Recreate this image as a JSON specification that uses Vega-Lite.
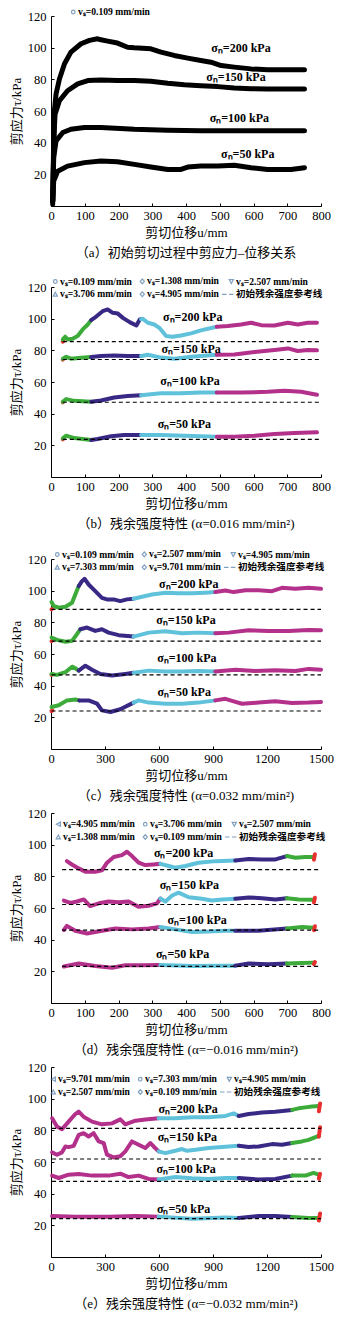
{
"$schema":"https://vega.github.io/schema/vega-lite/v6.json",
"padding":{"left":10,"top":5,"right":2,"bottom":2},
"spacing":3,
"config":{
 "view":{"stroke":null},
 "axis":{"grid":false,"domainColor":"#000","tickColor":"#000","tickSize":-3,"labelFont":"Liberation Serif","labelFontSize":12.5,"labelColor":"#000","labelFlush":false,"labelOverlap":false,"titleFont":"Liberation Serif, Noto Sans CJK SC","titleFontSize":13,"titleFontWeight":"normal","titleColor":"#000"},
 "axisX":{"labelPadding":6.3,"titlePadding":5,"format":"d"},
 "axisY":{"labelPadding":8,"titlePadding":4},
 "title":{"orient":"bottom","frame":"group","anchor":"middle","font":"Liberation Serif, Noto Sans CJK SC","fontSize":13,"fontWeight":"normal","color":"#000","offset":7.5},
 "legend":{"symbolSize":144,"symbolStrokeWidth":1.2,"labelFont":"Liberation Serif, Noto Sans CJK SC","labelFontSize":9.6,"labelFontWeight":"bold","labelColor":"#000","columnPadding":0,"rowPadding":1,"labelOffset":1,"direction":"horizontal"}
},
"resolve":{"scale":{"color":"independent","shape":"independent"},"legend":{"shape":"independent","color":"independent"}},
"datasets":{
"a":[
{"n":200,"x":5,"y":1},{"n":200,"x":8,"y":35},{"n":200,"x":10,"y":60},{"n":200,"x":15,"y":70.7},{"n":200,"x":25,"y":80.2},{"n":200,"x":40,"y":89.8},{"n":200,"x":59,"y":97.2},{"n":200,"x":89,"y":102.5},{"n":200,"x":114,"y":104.6},{"n":200,"x":138,"y":105.6},{"n":200,"x":148,"y":105},{"n":200,"x":168,"y":104.1},{"n":200,"x":197,"y":102.9},{"n":200,"x":227,"y":100.3},{"n":200,"x":247,"y":99.9},{"n":200,"x":296,"y":99.3},{"n":200,"x":326,"y":97.2},{"n":200,"x":365,"y":95.1},{"n":200,"x":405,"y":93.4},{"n":200,"x":444,"y":91.9},{"n":200,"x":474,"y":90.8},{"n":200,"x":504,"y":88.7},{"n":200,"x":543,"y":87.7},{"n":200,"x":593,"y":86.6},{"n":200,"x":642,"y":86},{"n":200,"x":691,"y":86},{"n":200,"x":751,"y":86},
{"n":150,"x":5,"y":3},{"n":150,"x":8,"y":41},{"n":150,"x":12,"y":58},{"n":150,"x":25,"y":66.5},{"n":150,"x":49,"y":72.8},{"n":150,"x":79,"y":77.1},{"n":150,"x":109,"y":79.2},{"n":150,"x":148,"y":79.6},{"n":150,"x":197,"y":79.2},{"n":150,"x":247,"y":79.2},{"n":150,"x":296,"y":78.8},{"n":150,"x":346,"y":77.5},{"n":150,"x":395,"y":76.6},{"n":150,"x":444,"y":76},{"n":150,"x":494,"y":75.4},{"n":150,"x":543,"y":74.5},{"n":150,"x":593,"y":74.1},{"n":150,"x":642,"y":73.9},{"n":150,"x":751,"y":73.9},
{"n":100,"x":5,"y":3},{"n":100,"x":8,"y":30.5},{"n":100,"x":15,"y":41.1},{"n":100,"x":35,"y":46.4},{"n":100,"x":59,"y":48.5},{"n":100,"x":99,"y":49.6},{"n":100,"x":148,"y":49.6},{"n":100,"x":247,"y":48.5},{"n":100,"x":346,"y":47.9},{"n":100,"x":444,"y":47.5},{"n":100,"x":543,"y":47.5},{"n":100,"x":751,"y":47.5},
{"n":50,"x":5,"y":3},{"n":50,"x":8,"y":15.7},{"n":50,"x":20,"y":22},{"n":50,"x":49,"y":25.2},{"n":50,"x":99,"y":27.4},{"n":50,"x":148,"y":28.4},{"n":50,"x":197,"y":28},{"n":50,"x":247,"y":26.3},{"n":50,"x":296,"y":24.6},{"n":50,"x":346,"y":23.1},{"n":50,"x":385,"y":23.1},{"n":50,"x":405,"y":24.6},{"n":50,"x":444,"y":25.2},{"n":50,"x":494,"y":25.2},{"n":50,"x":543,"y":25.7},{"n":50,"x":593,"y":24.2},{"n":50,"x":642,"y":23.1},{"n":50,"x":711,"y":23.1},{"n":50,"x":751,"y":24.2}
],
"b":[
{"n":200,"v":"0.109","x":35,"y":85.5},{"n":200,"v":"0.109","x":37,"y":86},
{"n":200,"v":"1.308","x":35,"y":86.9},{"n":200,"v":"1.308","x":42,"y":88.6},{"n":200,"v":"1.308","x":49,"y":86.9},{"n":200,"v":"1.308","x":64,"y":87.3},{"n":200,"v":"1.308","x":79,"y":89},{"n":200,"v":"1.308","x":94,"y":93.2},{"n":200,"v":"1.308","x":109,"y":96.3},{"n":200,"v":"1.308","x":119,"y":99.1},
{"n":200,"v":"2.507","x":119,"y":99.1},{"n":200,"v":"2.507","x":133,"y":101.2},{"n":200,"v":"2.507","x":153,"y":104.7},{"n":200,"v":"2.507","x":168,"y":105.8},{"n":200,"v":"2.507","x":183,"y":103.7},{"n":200,"v":"2.507","x":198,"y":103.2},{"n":200,"v":"2.507","x":213,"y":100.5},{"n":200,"v":"2.507","x":233,"y":97.8},{"n":200,"v":"2.507","x":253,"y":95.7},{"n":200,"v":"2.507","x":263,"y":99.5},{"n":200,"v":"2.507","x":267,"y":99.7},
{"n":200,"v":"3.706","x":267,"y":99.7},{"n":200,"v":"3.706","x":272,"y":99.9},{"n":200,"v":"3.706","x":287,"y":97.4},{"n":200,"v":"3.706","x":306,"y":96.3},{"n":200,"v":"3.706","x":321,"y":94.2},{"n":200,"v":"3.706","x":341,"y":89},{"n":200,"v":"3.706","x":360,"y":88.6},{"n":200,"v":"3.706","x":385,"y":89.4},{"n":200,"v":"3.706","x":415,"y":90.7},{"n":200,"v":"3.706","x":444,"y":92.6},{"n":200,"v":"3.706","x":491,"y":94.9},
{"n":200,"v":"4.905","x":491,"y":94.9},{"n":200,"v":"4.905","x":524,"y":95.3},{"n":200,"v":"4.905","x":563,"y":96.3},{"n":200,"v":"4.905","x":593,"y":97.4},{"n":200,"v":"4.905","x":623,"y":95.9},{"n":200,"v":"4.905","x":662,"y":95.7},{"n":200,"v":"4.905","x":702,"y":97.4},{"n":200,"v":"4.905","x":731,"y":96.3},{"n":200,"v":"4.905","x":761,"y":97.4},{"n":200,"v":"4.905","x":788,"y":97.4},
{"n":150,"v":"0.109","x":35,"y":74.2},{"n":150,"v":"0.109","x":37,"y":74.6},
{"n":150,"v":"1.308","x":35,"y":74.7},{"n":150,"v":"1.308","x":45,"y":75.9},{"n":150,"v":"1.308","x":59,"y":74.7},{"n":150,"v":"1.308","x":89,"y":75.3},{"n":150,"v":"1.308","x":119,"y":75.8},
{"n":150,"v":"2.507","x":119,"y":75.8},{"n":150,"v":"2.507","x":148,"y":76.4},{"n":150,"v":"2.507","x":187,"y":76.8},{"n":150,"v":"2.507","x":227,"y":76.4},{"n":150,"v":"2.507","x":267,"y":76.4},
{"n":150,"v":"3.706","x":267,"y":76.4},{"n":150,"v":"3.706","x":287,"y":77.2},{"n":150,"v":"3.706","x":326,"y":75.4},{"n":150,"v":"3.706","x":366,"y":74.7},{"n":150,"v":"3.706","x":415,"y":76},{"n":150,"v":"3.706","x":491,"y":77.2},
{"n":150,"v":"4.905","x":491,"y":77.2},{"n":150,"v":"4.905","x":543,"y":77.4},{"n":150,"v":"4.905","x":603,"y":78.9},{"n":150,"v":"4.905","x":662,"y":80.2},{"n":150,"v":"4.905","x":702,"y":81.2},{"n":150,"v":"4.905","x":731,"y":79.6},{"n":150,"v":"4.905","x":761,"y":80.2},{"n":150,"v":"4.905","x":788,"y":80},
{"n":100,"v":"0.109","x":35,"y":47.2},{"n":100,"v":"0.109","x":37,"y":47.6},
{"n":100,"v":"1.308","x":35,"y":47.5},{"n":100,"v":"1.308","x":45,"y":49.2},{"n":100,"v":"1.308","x":69,"y":48.1},{"n":100,"v":"1.308","x":119,"y":47.5},
{"n":100,"v":"2.507","x":119,"y":47.5},{"n":100,"v":"2.507","x":148,"y":48.3},{"n":100,"v":"2.507","x":187,"y":50.2},{"n":100,"v":"2.507","x":227,"y":51.2},{"n":100,"v":"2.507","x":267,"y":51.6},
{"n":100,"v":"3.706","x":267,"y":51.6},{"n":100,"v":"3.706","x":326,"y":52.9},{"n":100,"v":"3.706","x":385,"y":52.9},{"n":100,"v":"3.706","x":444,"y":53.3},{"n":100,"v":"3.706","x":491,"y":53.3},
{"n":100,"v":"4.905","x":491,"y":53.3},{"n":100,"v":"4.905","x":563,"y":53.3},{"n":100,"v":"4.905","x":642,"y":53.8},{"n":100,"v":"4.905","x":692,"y":54.4},{"n":100,"v":"4.905","x":741,"y":53.8},{"n":100,"v":"4.905","x":788,"y":51.9},
{"n":50,"v":"0.109","x":35,"y":23.8},{"n":50,"v":"0.109","x":37,"y":24.2},
{"n":50,"v":"1.308","x":35,"y":24.4},{"n":50,"v":"1.308","x":45,"y":26.1},{"n":50,"v":"1.308","x":69,"y":24.6},{"n":50,"v":"1.308","x":119,"y":23.4},
{"n":50,"v":"2.507","x":119,"y":23.4},{"n":50,"v":"2.507","x":138,"y":24},{"n":50,"v":"2.507","x":178,"y":25.7},{"n":50,"v":"2.507","x":217,"y":26.5},{"n":50,"v":"2.507","x":267,"y":26.5},
{"n":50,"v":"3.706","x":267,"y":26.5},{"n":50,"v":"3.706","x":326,"y":26.5},{"n":50,"v":"3.706","x":395,"y":26.1},{"n":50,"v":"3.706","x":491,"y":25.5},
{"n":50,"v":"4.905","x":491,"y":25.5},{"n":50,"v":"4.905","x":543,"y":25.5},{"n":50,"v":"4.905","x":603,"y":26.1},{"n":50,"v":"4.905","x":662,"y":27.2},{"n":50,"v":"4.905","x":721,"y":27.8},{"n":50,"v":"4.905","x":788,"y":28.2}
],
"c":[
{"n":200,"v":"0.109","x":3,"y":88.2},{"n":200,"v":"0.109","x":8,"y":88.6},
{"n":200,"v":"2.507","x":3,"y":92.8},{"n":200,"v":"2.507","x":15,"y":90.3},{"n":200,"v":"2.507","x":43,"y":89.3},{"n":200,"v":"2.507","x":80,"y":89.9},{"n":200,"v":"2.507","x":117,"y":92.4},{"n":200,"v":"2.507","x":135,"y":97.6},{"n":200,"v":"2.507","x":154,"y":102.9},
{"n":200,"v":"4.905","x":154,"y":102.9},{"n":200,"v":"4.905","x":172,"y":106},{"n":200,"v":"4.905","x":187,"y":107.5},{"n":200,"v":"4.905","x":209,"y":103.9},{"n":200,"v":"4.905","x":246,"y":99.7},{"n":200,"v":"4.905","x":283,"y":95.5},{"n":200,"v":"4.905","x":311,"y":94.5},{"n":200,"v":"4.905","x":348,"y":94.5},{"n":200,"v":"4.905","x":385,"y":93.4},{"n":200,"v":"4.905","x":422,"y":94.5},{"n":200,"v":"4.905","x":459,"y":94.9},
{"n":200,"v":"7.303","x":459,"y":94.9},{"n":200,"v":"7.303","x":506,"y":96.2},{"n":200,"v":"7.303","x":561,"y":97.6},{"n":200,"v":"7.303","x":635,"y":98.7},{"n":200,"v":"7.303","x":709,"y":98.3},{"n":200,"v":"7.303","x":783,"y":98.3},{"n":200,"v":"7.303","x":857,"y":98.7},{"n":200,"v":"7.303","x":913,"y":99.1},
{"n":200,"v":"9.701","x":913,"y":99.1},{"n":200,"v":"9.701","x":969,"y":100.1},{"n":200,"v":"9.701","x":1015,"y":99.1},{"n":200,"v":"9.701","x":1080,"y":100.3},{"n":200,"v":"9.701","x":1154,"y":100.3},{"n":200,"v":"9.701","x":1228,"y":99.7},{"n":200,"v":"9.701","x":1283,"y":101.8},{"n":200,"v":"9.701","x":1357,"y":101.2},{"n":200,"v":"9.701","x":1431,"y":101.8},{"n":200,"v":"9.701","x":1500,"y":101.2},
{"n":150,"v":"0.109","x":3,"y":68.1},{"n":150,"v":"0.109","x":8,"y":68.5},
{"n":150,"v":"2.507","x":3,"y":70.4},{"n":150,"v":"2.507","x":33,"y":68.9},{"n":150,"v":"2.507","x":80,"y":67.7},{"n":150,"v":"2.507","x":117,"y":68.3},{"n":150,"v":"2.507","x":144,"y":72.5},{"n":150,"v":"2.507","x":163,"y":75.6},
{"n":150,"v":"4.905","x":163,"y":75.6},{"n":150,"v":"4.905","x":200,"y":76.7},{"n":150,"v":"4.905","x":246,"y":74.6},{"n":150,"v":"4.905","x":283,"y":75.6},{"n":150,"v":"4.905","x":320,"y":73.5},{"n":150,"v":"4.905","x":376,"y":71.9},{"n":150,"v":"4.905","x":459,"y":71},
{"n":150,"v":"7.303","x":459,"y":71},{"n":150,"v":"7.303","x":543,"y":73.5},{"n":150,"v":"7.303","x":635,"y":74.4},{"n":150,"v":"7.303","x":728,"y":73.1},{"n":150,"v":"7.303","x":820,"y":73.5},{"n":150,"v":"7.303","x":913,"y":73.1},
{"n":150,"v":"9.701","x":913,"y":73.1},{"n":150,"v":"9.701","x":987,"y":73.5},{"n":150,"v":"9.701","x":1098,"y":75},{"n":150,"v":"9.701","x":1209,"y":74.6},{"n":150,"v":"9.701","x":1320,"y":74.6},{"n":150,"v":"9.701","x":1431,"y":75.2},{"n":150,"v":"9.701","x":1500,"y":75},
{"n":100,"v":"0.109","x":3,"y":46.8},{"n":100,"v":"0.109","x":8,"y":47.2},
{"n":100,"v":"2.507","x":3,"y":47.4},{"n":100,"v":"2.507","x":33,"y":46.8},{"n":100,"v":"2.507","x":80,"y":48.5},{"n":100,"v":"2.507","x":117,"y":52},{"n":100,"v":"2.507","x":135,"y":51},{"n":100,"v":"2.507","x":154,"y":49.5},
{"n":100,"v":"4.905","x":154,"y":49.5},{"n":100,"v":"4.905","x":191,"y":52.6},{"n":100,"v":"4.905","x":228,"y":50.1},{"n":100,"v":"4.905","x":274,"y":47.4},{"n":100,"v":"4.905","x":339,"y":46.4},{"n":100,"v":"4.905","x":413,"y":47.4},{"n":100,"v":"4.905","x":459,"y":48.1},
{"n":100,"v":"7.303","x":459,"y":48.1},{"n":100,"v":"7.303","x":543,"y":49.5},{"n":100,"v":"7.303","x":635,"y":48.9},{"n":100,"v":"7.303","x":728,"y":48.9},{"n":100,"v":"7.303","x":820,"y":49.3},{"n":100,"v":"7.303","x":913,"y":48.9},
{"n":100,"v":"9.701","x":913,"y":48.9},{"n":100,"v":"9.701","x":1024,"y":50.1},{"n":100,"v":"9.701","x":1135,"y":49.3},{"n":100,"v":"9.701","x":1246,"y":49.7},{"n":100,"v":"9.701","x":1357,"y":49.3},{"n":100,"v":"9.701","x":1431,"y":50.6},{"n":100,"v":"9.701","x":1500,"y":50.1},
{"n":50,"v":"0.109","x":3,"y":24},{"n":50,"v":"0.109","x":8,"y":24.4},
{"n":50,"v":"2.507","x":3,"y":26.5},{"n":50,"v":"2.507","x":43,"y":27.6},{"n":50,"v":"2.507","x":89,"y":30.7},{"n":50,"v":"2.507","x":135,"y":31.3},{"n":50,"v":"2.507","x":157,"y":30.7},
{"n":50,"v":"4.905","x":157,"y":30.7},{"n":50,"v":"4.905","x":209,"y":30.7},{"n":50,"v":"4.905","x":256,"y":28.6},{"n":50,"v":"4.905","x":283,"y":24.4},{"n":50,"v":"4.905","x":330,"y":23.4},{"n":50,"v":"4.905","x":385,"y":25.1},{"n":50,"v":"4.905","x":459,"y":29.3},
{"n":50,"v":"7.303","x":459,"y":29.3},{"n":50,"v":"7.303","x":487,"y":30.7},{"n":50,"v":"7.303","x":543,"y":29.3},{"n":50,"v":"7.303","x":635,"y":28.6},{"n":50,"v":"7.303","x":728,"y":28.6},{"n":50,"v":"7.303","x":820,"y":29.3},{"n":50,"v":"7.303","x":913,"y":30.7},
{"n":50,"v":"9.701","x":913,"y":30.7},{"n":50,"v":"9.701","x":969,"y":31.7},{"n":50,"v":"9.701","x":1015,"y":30.1},{"n":50,"v":"9.701","x":1061,"y":28.6},{"n":50,"v":"9.701","x":1154,"y":29.3},{"n":50,"v":"9.701","x":1246,"y":30.1},{"n":50,"v":"9.701","x":1339,"y":29},{"n":50,"v":"9.701","x":1431,"y":29.3},{"n":50,"v":"9.701","x":1500,"y":29.7}
],
"d":[
{"n":200,"v":"4.905","x":47,"y":89.6},{"n":200,"v":"4.905","x":62,"y":87.5},{"n":200,"v":"4.905","x":82,"y":85},{"n":200,"v":"4.905","x":102,"y":82.9},{"n":200,"v":"4.905","x":131,"y":82.9},{"n":200,"v":"4.905","x":151,"y":83.8},{"n":200,"v":"4.905","x":166,"y":88.6},{"n":200,"v":"4.905","x":186,"y":92.2},{"n":200,"v":"4.905","x":210,"y":93.4},{"n":200,"v":"4.905","x":225,"y":95.5},{"n":200,"v":"4.905","x":240,"y":92.8},{"n":200,"v":"4.905","x":260,"y":88.6},{"n":200,"v":"4.905","x":279,"y":87.1},{"n":200,"v":"4.905","x":304,"y":87.5},{"n":200,"v":"4.905","x":324,"y":87.9},
{"n":200,"v":"3.706","x":324,"y":87.9},{"n":200,"v":"3.706","x":349,"y":86.5},{"n":200,"v":"3.706","x":368,"y":85.4},{"n":200,"v":"3.706","x":398,"y":86.5},{"n":200,"v":"3.706","x":437,"y":88.6},{"n":200,"v":"3.706","x":487,"y":89.6},{"n":200,"v":"3.706","x":546,"y":90},
{"n":200,"v":"2.507","x":546,"y":90},{"n":200,"v":"2.507","x":586,"y":90.9},{"n":200,"v":"2.507","x":625,"y":90.7},{"n":200,"v":"2.507","x":665,"y":90.7},{"n":200,"v":"2.507","x":699,"y":92.8},
{"n":200,"v":"1.308","x":699,"y":92.8},{"n":200,"v":"1.308","x":724,"y":91.7},{"n":200,"v":"1.308","x":753,"y":92.2},{"n":200,"v":"1.308","x":778,"y":92.2},
{"n":200,"v":"0.109","x":779,"y":90.5},{"n":200,"v":"0.109","x":782,"y":94},
{"n":150,"v":"4.905","x":38,"y":64.7},{"n":150,"v":"4.905","x":57,"y":63.2},{"n":150,"v":"4.905","x":77,"y":64.1},{"n":150,"v":"4.905","x":97,"y":65.4},{"n":150,"v":"4.905","x":116,"y":61.2},{"n":150,"v":"4.905","x":146,"y":63.2},{"n":150,"v":"4.905","x":171,"y":64.1},{"n":150,"v":"4.905","x":200,"y":63.7},{"n":150,"v":"4.905","x":230,"y":64.1},{"n":150,"v":"4.905","x":259,"y":60.8},{"n":150,"v":"4.905","x":289,"y":61.4},{"n":150,"v":"4.905","x":314,"y":62.9},{"n":150,"v":"4.905","x":324,"y":66},
{"n":150,"v":"3.706","x":324,"y":66},{"n":150,"v":"3.706","x":339,"y":64.1},{"n":150,"v":"3.706","x":359,"y":67.9},{"n":150,"v":"3.706","x":378,"y":69.7},{"n":150,"v":"3.706","x":408,"y":66.8},{"n":150,"v":"3.706","x":447,"y":65.8},{"n":150,"v":"3.706","x":477,"y":64.7},{"n":150,"v":"3.706","x":507,"y":65.4},{"n":150,"v":"3.706","x":546,"y":65.8},
{"n":150,"v":"2.507","x":546,"y":65.8},{"n":150,"v":"2.507","x":586,"y":66.7},{"n":150,"v":"2.507","x":625,"y":66.2},{"n":150,"v":"2.507","x":665,"y":65.4},{"n":150,"v":"2.507","x":699,"y":66.2},
{"n":150,"v":"1.308","x":699,"y":66.2},{"n":150,"v":"1.308","x":734,"y":65.4},{"n":150,"v":"1.308","x":778,"y":65.2},
{"n":150,"v":"0.109","x":779,"y":63.5},{"n":150,"v":"0.109","x":782,"y":66.5},
{"n":100,"v":"4.905","x":38,"y":46.1},{"n":100,"v":"4.905","x":47,"y":48.7},{"n":100,"v":"4.905","x":72,"y":45.6},{"n":100,"v":"4.905","x":107,"y":43.9},{"n":100,"v":"4.905","x":151,"y":45.6},{"n":100,"v":"4.905","x":191,"y":47},{"n":100,"v":"4.905","x":240,"y":46.5},{"n":100,"v":"4.905","x":289,"y":47.1},{"n":100,"v":"4.905","x":324,"y":48},
{"n":100,"v":"3.706","x":324,"y":48},{"n":100,"v":"3.706","x":368,"y":46.5},{"n":100,"v":"3.706","x":418,"y":44.9},{"n":100,"v":"3.706","x":467,"y":45.1},{"n":100,"v":"3.706","x":516,"y":45.6},{"n":100,"v":"3.706","x":546,"y":45.6},
{"n":100,"v":"2.507","x":546,"y":45.6},{"n":100,"v":"2.507","x":615,"y":45.6},{"n":100,"v":"2.507","x":699,"y":47.1},
{"n":100,"v":"1.308","x":699,"y":47.1},{"n":100,"v":"1.308","x":744,"y":48},{"n":100,"v":"1.308","x":778,"y":47.6},
{"n":100,"v":"0.109","x":779,"y":46},{"n":100,"v":"0.109","x":782,"y":48.5},
{"n":50,"v":"4.905","x":38,"y":23},{"n":50,"v":"4.905","x":82,"y":24.9},{"n":50,"v":"4.905","x":131,"y":23.4},{"n":50,"v":"4.905","x":181,"y":22.3},{"n":50,"v":"4.905","x":220,"y":23.8},{"n":50,"v":"4.905","x":270,"y":23.8},{"n":50,"v":"4.905","x":324,"y":24},
{"n":50,"v":"3.706","x":324,"y":24},{"n":50,"v":"3.706","x":418,"y":23.4},{"n":50,"v":"3.706","x":487,"y":23.6},{"n":50,"v":"3.706","x":546,"y":23.6},
{"n":50,"v":"2.507","x":546,"y":23.6},{"n":50,"v":"2.507","x":586,"y":24.9},{"n":50,"v":"2.507","x":645,"y":24.4},{"n":50,"v":"2.507","x":699,"y":24.9},
{"n":50,"v":"1.308","x":699,"y":24.9},{"n":50,"v":"1.308","x":744,"y":25.3},{"n":50,"v":"1.308","x":778,"y":25.5},
{"n":50,"v":"0.109","x":779,"y":24.5},{"n":50,"v":"0.109","x":782,"y":25.8}
],
"e":[
{"n":200,"v":"9.701","x":6,"y":87.6},{"n":200,"v":"9.701","x":33,"y":82.4},{"n":200,"v":"9.701","x":61,"y":80.7},{"n":200,"v":"9.701","x":98,"y":85.5},{"n":200,"v":"9.701","x":135,"y":90.3},{"n":200,"v":"9.701","x":154,"y":91.8},{"n":200,"v":"9.701","x":181,"y":88.6},{"n":200,"v":"9.701","x":228,"y":85.5},{"n":200,"v":"9.701","x":283,"y":83.8},{"n":200,"v":"9.701","x":339,"y":84.4},{"n":200,"v":"9.701","x":385,"y":86.9},{"n":200,"v":"9.701","x":413,"y":83.8},{"n":200,"v":"9.701","x":469,"y":86.1},{"n":200,"v":"9.701","x":524,"y":86.9},{"n":200,"v":"9.701","x":598,"y":87.6},
{"n":200,"v":"7.303","x":598,"y":87.6},{"n":200,"v":"7.303","x":691,"y":87.6},{"n":200,"v":"7.303","x":783,"y":88.2},{"n":200,"v":"7.303","x":876,"y":88.2},{"n":200,"v":"7.303","x":969,"y":89.1},{"n":200,"v":"7.303","x":1015,"y":90.7},{"n":200,"v":"7.303","x":1043,"y":89.1},
{"n":200,"v":"4.905","x":1043,"y":89.1},{"n":200,"v":"4.905","x":1098,"y":90.3},{"n":200,"v":"4.905","x":1172,"y":91.2},{"n":200,"v":"4.905","x":1246,"y":91.8},{"n":200,"v":"4.905","x":1339,"y":92.9},
{"n":200,"v":"2.507","x":1339,"y":92.9},{"n":200,"v":"2.507","x":1376,"y":93.9},{"n":200,"v":"2.507","x":1413,"y":94.5},{"n":200,"v":"2.507","x":1450,"y":95},{"n":200,"v":"2.507","x":1487,"y":95.4},
{"n":200,"v":"0.109","x":1488,"y":92},{"n":200,"v":"0.109","x":1495,"y":97},
{"n":150,"v":"9.701","x":6,"y":66.1},{"n":150,"v":"9.701","x":33,"y":64.6},{"n":150,"v":"9.701","x":61,"y":66.1},{"n":150,"v":"9.701","x":80,"y":69.8},{"n":150,"v":"9.701","x":98,"y":69.4},{"n":150,"v":"9.701","x":126,"y":70.2},{"n":150,"v":"9.701","x":154,"y":77.1},{"n":150,"v":"9.701","x":181,"y":78.2},{"n":150,"v":"9.701","x":209,"y":76.1},{"n":150,"v":"9.701","x":237,"y":78.2},{"n":150,"v":"9.701","x":265,"y":73},{"n":150,"v":"9.701","x":293,"y":71.9},{"n":150,"v":"9.701","x":311,"y":64.6},{"n":150,"v":"9.701","x":348,"y":62.9},{"n":150,"v":"9.701","x":385,"y":63.6},{"n":150,"v":"9.701","x":413,"y":66.7},{"n":150,"v":"9.701","x":450,"y":73},{"n":150,"v":"9.701","x":487,"y":70.9},{"n":150,"v":"9.701","x":524,"y":68.8},{"n":150,"v":"9.701","x":552,"y":72},{"n":150,"v":"9.701","x":570,"y":69.8},{"n":150,"v":"9.701","x":598,"y":66.7},
{"n":150,"v":"7.303","x":598,"y":66.7},{"n":150,"v":"7.303","x":635,"y":65.6},{"n":150,"v":"7.303","x":691,"y":67.1},{"n":150,"v":"7.303","x":728,"y":68.2},{"n":150,"v":"7.303","x":755,"y":67.1},{"n":150,"v":"7.303","x":802,"y":67.8},{"n":150,"v":"7.303","x":876,"y":68.8},{"n":150,"v":"7.303","x":950,"y":69.5},{"n":150,"v":"7.303","x":1043,"y":70.3},
{"n":150,"v":"4.905","x":1043,"y":70.3},{"n":150,"v":"4.905","x":1098,"y":69.5},{"n":150,"v":"4.905","x":1154,"y":69.8},{"n":150,"v":"4.905","x":1228,"y":71.3},{"n":150,"v":"4.905","x":1283,"y":70.9},{"n":150,"v":"4.905","x":1339,"y":72},
{"n":150,"v":"2.507","x":1339,"y":72},{"n":150,"v":"2.507","x":1394,"y":73},{"n":150,"v":"2.507","x":1431,"y":74},{"n":150,"v":"2.507","x":1487,"y":76.5},
{"n":150,"v":"0.109","x":1488,"y":76},{"n":150,"v":"0.109","x":1495,"y":82},
{"n":100,"v":"9.701","x":6,"y":51.4},{"n":100,"v":"9.701","x":43,"y":49.9},{"n":100,"v":"9.701","x":98,"y":52},{"n":100,"v":"9.701","x":154,"y":52.4},{"n":100,"v":"9.701","x":228,"y":51.4},{"n":100,"v":"9.701","x":320,"y":51.4},{"n":100,"v":"9.701","x":385,"y":52.6},{"n":100,"v":"9.701","x":431,"y":50.5},{"n":100,"v":"9.701","x":487,"y":51.4},{"n":100,"v":"9.701","x":543,"y":49.3},{"n":100,"v":"9.701","x":598,"y":48.9},
{"n":100,"v":"7.303","x":598,"y":48.9},{"n":100,"v":"7.303","x":691,"y":50.5},{"n":100,"v":"7.303","x":783,"y":49.7},{"n":100,"v":"7.303","x":876,"y":49.3},{"n":100,"v":"7.303","x":969,"y":49.9},{"n":100,"v":"7.303","x":1043,"y":49.9},
{"n":100,"v":"4.905","x":1043,"y":49.9},{"n":100,"v":"4.905","x":1154,"y":48.9},{"n":100,"v":"4.905","x":1246,"y":49.3},{"n":100,"v":"4.905","x":1339,"y":51.4},
{"n":100,"v":"2.507","x":1339,"y":51.4},{"n":100,"v":"2.507","x":1413,"y":51.4},{"n":100,"v":"2.507","x":1459,"y":53.1},{"n":100,"v":"2.507","x":1487,"y":52},
{"n":100,"v":"0.109","x":1488,"y":49.5},{"n":100,"v":"0.109","x":1495,"y":52.5},
{"n":50,"v":"9.701","x":6,"y":25.9},{"n":50,"v":"9.701","x":135,"y":25.5},{"n":50,"v":"9.701","x":320,"y":25.5},{"n":50,"v":"9.701","x":469,"y":25.9},{"n":50,"v":"9.701","x":598,"y":25.5},
{"n":50,"v":"7.303","x":598,"y":25.5},{"n":50,"v":"7.303","x":783,"y":24.2},{"n":50,"v":"7.303","x":969,"y":24.9},{"n":50,"v":"7.303","x":1043,"y":24.7},
{"n":50,"v":"4.905","x":1043,"y":24.7},{"n":50,"v":"4.905","x":1154,"y":25.9},{"n":50,"v":"4.905","x":1246,"y":25.9},{"n":50,"v":"4.905","x":1339,"y":25.3},
{"n":50,"v":"2.507","x":1339,"y":25.3},{"n":50,"v":"2.507","x":1431,"y":24.7},{"n":50,"v":"2.507","x":1487,"y":24.7},
{"n":50,"v":"0.109","x":1488,"y":23},{"n":50,"v":"0.109","x":1495,"y":27.5}
],
"r":[
{"p":"b","n":200,"x":35,"y":85.5},{"p":"b","n":200,"x":795,"y":85.5},{"p":"b","n":150,"x":35,"y":74.2},{"p":"b","n":150,"x":795,"y":74.2},{"p":"b","n":100,"x":35,"y":47.2},{"p":"b","n":100,"x":795,"y":47.2},{"p":"b","n":50,"x":35,"y":23.8},{"p":"b","n":50,"x":795,"y":23.8},
{"p":"c","n":200,"x":3,"y":88.2},{"p":"c","n":200,"x":1500,"y":88.2},{"p":"c","n":150,"x":3,"y":68.1},{"p":"c","n":150,"x":1500,"y":68.1},{"p":"c","n":100,"x":3,"y":46.8},{"p":"c","n":100,"x":1500,"y":46.8},{"p":"c","n":50,"x":3,"y":24},{"p":"c","n":50,"x":1500,"y":24},
{"p":"d","n":200,"x":33,"y":84.2},{"p":"d","n":200,"x":798,"y":84.2},{"p":"d","n":150,"x":33,"y":62.2},{"p":"d","n":150,"x":798,"y":62.2},{"p":"d","n":100,"x":33,"y":46},{"p":"d","n":100,"x":798,"y":46},{"p":"d","n":50,"x":33,"y":23.1},{"p":"d","n":50,"x":798,"y":23.1},
{"p":"e","n":200,"x":6,"y":81.3},{"p":"e","n":200,"x":1500,"y":81.3},{"p":"e","n":150,"x":6,"y":61.9},{"p":"e","n":150,"x":1500,"y":61.9},{"p":"e","n":100,"x":6,"y":47.8},{"p":"e","n":100,"x":1500,"y":47.8},{"p":"e","n":50,"x":6,"y":24.2},{"p":"e","n":50,"x":1500,"y":24.2}
],
"t":[
{"p":"a","x":563,"y":99.7,"t":"σₙ=200 kPa"},{"p":"a","x":548,"y":81.3,"t":"σₙ=150 kPa"},{"p":"a","x":558,"y":55.5,"t":"σₙ=100 kPa"},{"p":"a","x":583,"y":32.7,"t":"σₙ=50 kPa"},
{"p":"b","x":420,"y":101,"t":"σₙ=200 kPa"},{"p":"b","x":415,"y":80.6,"t":"σₙ=150 kPa"},{"p":"b","x":412,"y":60.7,"t":"σₙ=100 kPa"},{"p":"b","x":395,"y":33.4,"t":"σₙ=50 kPa"},
{"p":"c","x":765,"y":104.5,"t":"σₙ=200 kPa"},{"p":"c","x":750,"y":81.5,"t":"σₙ=150 kPa"},{"p":"c","x":755,"y":57.5,"t":"σₙ=100 kPa"},{"p":"c","x":740,"y":36,"t":"σₙ=50 kPa"},
{"p":"d","x":393,"y":95,"t":"σₙ=200 kPa"},{"p":"d","x":410,"y":74.6,"t":"σₙ=150 kPa"},{"p":"d","x":433,"y":52.7,"t":"σₙ=100 kPa"},{"p":"d","x":390,"y":30.8,"t":"σₙ=50 kPa"},
{"p":"e","x":762,"y":93.2,"t":"σₙ=200 kPa"},{"p":"e","x":758,"y":76.1,"t":"σₙ=150 kPa"},{"p":"e","x":751,"y":55.6,"t":"σₙ=100 kPa"},{"p":"e","x":737,"y":30.5,"t":"σₙ=50 kPa"}
]
},
"vconcat":[
{"width":270,"height":190,
 "title":{"text":"（a）初始剪切过程中剪应力–位移关系"},
 "encoding":{
  "x":{"field":"x","type":"quantitative","title":"剪切位移u/mm","scale":{"domain":[0,800],"nice":false},"axis":{"values":[0,100,200,300,400,500,600,700,800]}},
  "y":{"field":"y","type":"quantitative","title":"剪应力τ/kPa","scale":{"domain":[0,120],"nice":false},"axis":{"values":[20,40,60,80,100,120]}}},
 "layer":[
  {"data":{"name":"a"},"mark":{"type":"line","strokeWidth":5,"strokeCap":"round","strokeJoin":"round","color":"#000"},"encoding":{"detail":{"field":"n","type":"nominal"}}},
  {"data":{"name":"t"},"transform":[{"filter":"datum.p == 'a'"}],"mark":{"type":"text","font":"Liberation Serif","fontSize":12,"fontWeight":"bold","color":"#000"},"encoding":{"text":{"field":"t","type":"nominal"}}},
  {"data":{"name":"a"},"transform":[{"filter":"false"}],"mark":{"type":"point","filled":false},"encoding":{"shape":{"field":"n","type":"nominal","scale":{"domain":["0.109"],"range":["M0.85,0A0.3,0.3,0,1,1,0.25,0A0.3,0.3,0,1,1,0.85,0Z"]},"legend":{"title":null,"orient":"none","legendX":12,"legendY":-11,"padding":0,"labelExpr":"'vₛ=' + datum.value + ' mm/min'","encode":{"symbols":{"update":{"stroke":{"value":"#999"},"fill":{"value":"transparent"},"opacity":{"value":1}}}}}}}}
 ]},
{"width":270,"height":190,
 "title":{"text":"（b）残余强度特性 (α=0.016 mm/min²)"},
 "encoding":{
  "x":{"field":"x","type":"quantitative","title":"剪切位移u/mm","scale":{"domain":[0,800],"nice":false},"axis":{"values":[0,100,200,300,400,500,600,700,800]}},
  "y":{"field":"y","type":"quantitative","title":"剪应力τ/kPa","scale":{"domain":[0,120],"nice":false},"axis":{"values":[20,40,60,80,100,120]}}},
 "layer":[
  {"data":{"name":"b"},"mark":{"type":"line","strokeWidth":4,"strokeCap":"round","strokeJoin":"round"},"encoding":{"color":{"field":"v","type":"nominal","scale":{"domain":["0.109","1.308","2.507","3.706","4.905"],"range":["#e8312f","#3cab3a","#3a2885","#60c2da","#b3308b"]},"legend":null},"detail":{"field":"n","type":"nominal"}}},
  {"data":{"name":"r"},"transform":[{"filter":"datum.p == 'b'"}],"mark":{"type":"line","strokeDash":[4,3],"strokeWidth":1.2,"color":"#000"},"encoding":{"detail":{"field":"n","type":"nominal"}}},
  {"data":{"name":"t"},"transform":[{"filter":"datum.p == 'b'"}],"mark":{"type":"text","font":"Liberation Serif","fontSize":12,"fontWeight":"bold","color":"#000"},"encoding":{"text":{"field":"t","type":"nominal"}}},
  {"data":{"name":"b"},"transform":[{"filter":"false"}],"mark":{"type":"point","filled":false},"encoding":{"shape":{"field":"v","type":"nominal","scale":{"domain":["0.109","1.308","2.507","3.706","4.905","ref"],"range":["M0.85,0A0.3,0.3,0,1,1,0.25,0A0.3,0.3,0,1,1,0.85,0Z","M0.55,-0.4L0.9,0L0.55,0.4L0.2,0Z","M0.2,-0.3L0.9,-0.3L0.55,0.35Z","M0.2,0.3L0.9,0.3L0.55,-0.35Z","M0.55,-0.4L0.9,0L0.55,0.4L0.2,0Z","M-1,0H-0.25M0.15,0H0.9"]},"legend":{"title":null,"orient":"none","legendX":-16,"legendY":-22.7,"padding":10,"columns":3,"direction":"horizontal","labelExpr":"datum.value === 'ref' ? '初始残余强度参考线' : 'vₛ=' + datum.value + ' mm/min'","encode":{"symbols":{"update":{"stroke":{"signal":"datum.value === 'ref' ? '#000' : '#999'"},"fill":{"value":"transparent"},"opacity":{"value":1}}}}}}}}
 ]},
{"width":270,"height":190,
 "title":{"text":"（c）残余强度特性 (α=0.032 mm/min²)"},
 "encoding":{
  "x":{"field":"x","type":"quantitative","title":"剪切位移u/mm","scale":{"domain":[0,1500],"nice":false},"axis":{"values":[0,300,600,900,1200,1500]}},
  "y":{"field":"y","type":"quantitative","title":"剪应力τ/kPa","scale":{"domain":[0,120],"nice":false},"axis":{"values":[20,40,60,80,100,120]}}},
 "layer":[
  {"data":{"name":"c"},"mark":{"type":"line","strokeWidth":4,"strokeCap":"round","strokeJoin":"round"},"encoding":{"color":{"field":"v","type":"nominal","scale":{"domain":["0.109","2.507","4.905","7.303","9.701"],"range":["#e8312f","#3cab3a","#3a2885","#60c2da","#b3308b"]},"legend":null},"detail":{"field":"n","type":"nominal"}}},
  {"data":{"name":"r"},"transform":[{"filter":"datum.p == 'c'"}],"mark":{"type":"line","strokeDash":[4,3],"strokeWidth":1.2,"color":"#000"},"encoding":{"detail":{"field":"n","type":"nominal"}}},
  {"data":{"name":"t"},"transform":[{"filter":"datum.p == 'c'"}],"mark":{"type":"text","font":"Liberation Serif","fontSize":12,"fontWeight":"bold","color":"#000"},"encoding":{"text":{"field":"t","type":"nominal"}}},
  {"data":{"name":"c"},"transform":[{"filter":"false"}],"mark":{"type":"point","filled":false},"encoding":{"shape":{"field":"v","type":"nominal","scale":{"domain":["0.109","2.507","4.905","7.303","9.701","ref"],"range":["M0.85,0A0.3,0.3,0,1,1,0.25,0A0.3,0.3,0,1,1,0.85,0Z","M0.55,-0.4L0.9,0L0.55,0.4L0.2,0Z","M0.2,-0.3L0.9,-0.3L0.55,0.35Z","M0.2,0.3L0.9,0.3L0.55,-0.35Z","M0.55,-0.4L0.9,0L0.55,0.4L0.2,0Z","M-1,0H-0.25M0.15,0H0.9"]},"legend":{"title":null,"orient":"none","legendX":-16,"legendY":-23.7,"padding":12,"columns":3,"direction":"horizontal","labelExpr":"datum.value === 'ref' ? '初始残余强度参考线' : 'vₛ=' + datum.value + ' mm/min'","encode":{"symbols":{"update":{"stroke":{"signal":"datum.value === 'ref' ? '#000' : '#999'"},"fill":{"value":"transparent"},"opacity":{"value":1}}}}}}}}
 ]},
{"width":270,"height":190,
 "title":{"text":"（d）残余强度特性 (α=−0.016 mm/min²)"},
 "encoding":{
  "x":{"field":"x","type":"quantitative","title":"剪切位移u/mm","scale":{"domain":[0,800],"nice":false},"axis":{"values":[0,100,200,300,400,500,600,700,800]}},
  "y":{"field":"y","type":"quantitative","title":"剪应力τ/kPa","scale":{"domain":[0,120],"nice":false},"axis":{"values":[20,40,60,80,100,120]}}},
 "layer":[
  {"data":{"name":"d"},"mark":{"type":"line","strokeWidth":4,"strokeCap":"round","strokeJoin":"round"},"encoding":{"color":{"field":"v","type":"nominal","scale":{"domain":["4.905","3.706","2.507","1.308","0.109"],"range":["#b3308b","#60c2da","#3a2885","#3cab3a","#e8312f"]},"legend":null},"detail":{"field":"n","type":"nominal"}}},
  {"data":{"name":"r"},"transform":[{"filter":"datum.p == 'd'"}],"mark":{"type":"line","strokeDash":[4,3],"strokeWidth":1.2,"color":"#000"},"encoding":{"detail":{"field":"n","type":"nominal"}}},
  {"data":{"name":"t"},"transform":[{"filter":"datum.p == 'd'"}],"mark":{"type":"text","font":"Liberation Serif","fontSize":12,"fontWeight":"bold","color":"#000"},"encoding":{"text":{"field":"t","type":"nominal"}}},
  {"data":{"name":"d"},"transform":[{"filter":"false"}],"mark":{"type":"point","filled":false},"encoding":{"shape":{"field":"v","type":"nominal","scale":{"domain":["4.905","3.706","2.507","1.308","0.109","ref"],"range":["M0.9,-0.35L0.9,0.35L0.25,0Z","M0.85,0A0.3,0.3,0,1,1,0.25,0A0.3,0.3,0,1,1,0.85,0Z","M0.2,-0.3L0.9,-0.3L0.55,0.35Z","M0.2,0.3L0.9,0.3L0.55,-0.35Z","M0.55,-0.4L0.9,0L0.55,0.4L0.2,0Z","M-1,0H-0.25M0.15,0H0.9"]},"legend":{"title":null,"orient":"none","legendX":-3,"legendY":4,"padding":0,"columns":3,"direction":"horizontal","labelExpr":"datum.value === 'ref' ? '初始残余强度参考线' : 'vₛ=' + datum.value + ' mm/min'","encode":{"symbols":{"update":{"stroke":{"signal":"datum.value === 'ref' ? '#000' : '#999'"},"fill":{"value":"transparent"},"opacity":{"value":1}}}}}}}}
 ]},
{"width":270,"height":190,
 "title":{"text":"（e）残余强度特性 (α=−0.032 mm/min²)"},
 "encoding":{
  "x":{"field":"x","type":"quantitative","title":"剪切位移u/mm","scale":{"domain":[0,1500],"nice":false},"axis":{"values":[0,300,600,900,1200,1500]}},
  "y":{"field":"y","type":"quantitative","title":"剪应力τ/kPa","scale":{"domain":[0,120],"nice":false},"axis":{"values":[20,40,60,80,100,120]}}},
 "layer":[
  {"data":{"name":"e"},"mark":{"type":"line","strokeWidth":4,"strokeCap":"round","strokeJoin":"round"},"encoding":{"color":{"field":"v","type":"nominal","scale":{"domain":["9.701","7.303","4.905","2.507","0.109"],"range":["#b3308b","#60c2da","#3a2885","#3cab3a","#e8312f"]},"legend":null},"detail":{"field":"n","type":"nominal"}}},
  {"data":{"name":"r"},"transform":[{"filter":"datum.p == 'e'"}],"mark":{"type":"line","strokeDash":[4,3],"strokeWidth":1.2,"color":"#000"},"encoding":{"detail":{"field":"n","type":"nominal"}}},
  {"data":{"name":"t"},"transform":[{"filter":"datum.p == 'e'"}],"mark":{"type":"text","font":"Liberation Serif","fontSize":12,"fontWeight":"bold","color":"#000"},"encoding":{"text":{"field":"t","type":"nominal"}}},
  {"data":{"name":"e"},"transform":[{"filter":"false"}],"mark":{"type":"point","filled":false},"encoding":{"shape":{"field":"v","type":"nominal","scale":{"domain":["9.701","7.303","4.905","2.507","0.109","ref"],"range":["M0.9,-0.35L0.9,0.35L0.25,0Z","M0.85,0A0.3,0.3,0,1,1,0.25,0A0.3,0.3,0,1,1,0.85,0Z","M0.2,-0.3L0.9,-0.3L0.55,0.35Z","M0.2,0.3L0.9,0.3L0.55,-0.35Z","M0.55,-0.4L0.9,0L0.55,0.4L0.2,0Z","M-1,0H-0.25M0.15,0H0.9"]},"legend":{"title":null,"orient":"none","legendX":-8,"legendY":5,"padding":0,"columns":3,"direction":"horizontal","labelExpr":"datum.value === 'ref' ? '初始残余强度参考线' : 'vₛ=' + datum.value + ' mm/min'","encode":{"symbols":{"update":{"stroke":{"signal":"datum.value === 'ref' ? '#000' : '#999'"},"fill":{"value":"transparent"},"opacity":{"value":1}}}}}}}}
 ]}
]
}
